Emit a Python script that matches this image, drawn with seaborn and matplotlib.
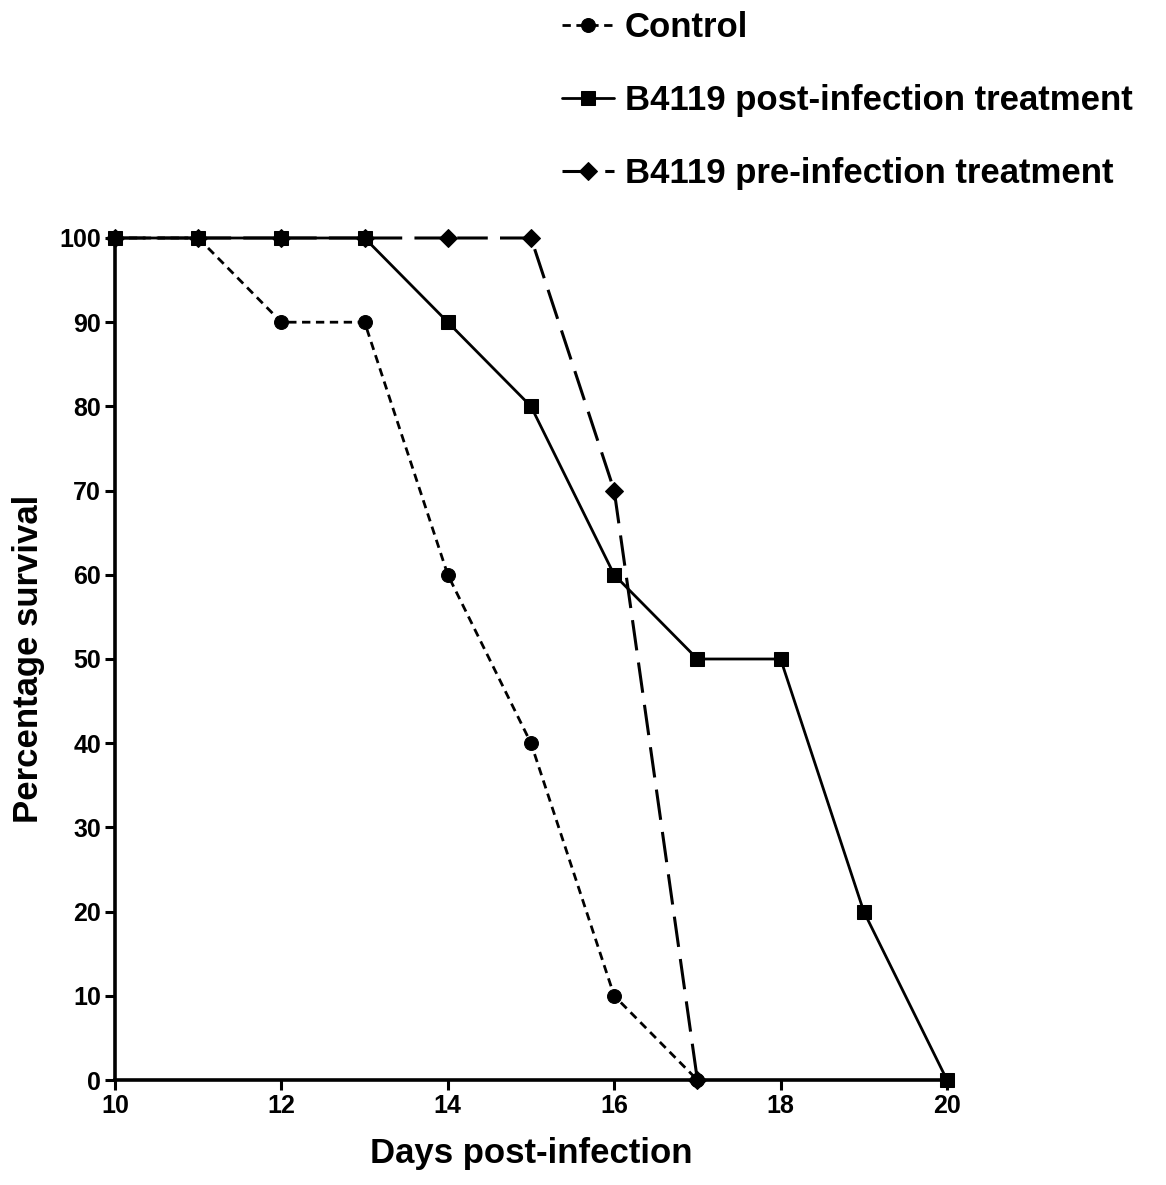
import matplotlib
matplotlib.use("Agg")
import matplotlib.pyplot as plt
import pandas as pd
import seaborn as sns

# Survival data
DAYS_CONTROL = [10, 11, 12, 13, 14, 15, 16, 17]
SURV_CONTROL = [100, 100, 90, 90, 60, 40, 10, 0]

DAYS_POST = [10, 11, 12, 13, 14, 15, 16, 17, 18, 19, 20]
SURV_POST = [100, 100, 100, 100, 90, 80, 60, 50, 50, 20, 0]

DAYS_PRE = [10, 11, 12, 13, 14, 15, 16, 17]
SURV_PRE = [100, 100, 100, 100, 100, 100, 70, 0]

X_TICKS = [10, 12, 14, 16, 18, 20]
Y_TICKS = [0, 10, 20, 30, 40, 50, 60, 70, 80, 90, 100]

sns.set_style("ticks")
plt.rcParams["font.family"] = ["Liberation Sans", "DejaVu Sans"]
plt.rcParams["font.weight"] = "bold"
plt.rcParams["text.color"] = "black"
plt.rcParams["axes.labelcolor"] = "black"
plt.rcParams["axes.edgecolor"] = "black"
plt.rcParams["xtick.color"] = "black"
plt.rcParams["ytick.color"] = "black"

fig = plt.figure(figsize=(11.66, 11.85), dpi=100)
ax = fig.add_axes([115 / 1166, 105 / 1185, 832 / 1166, 842 / 1185])

series = [
    ("B4119 pre-infection treatment", DAYS_PRE, SURV_PRE,
     dict(marker="D", markersize=9, linewidth=2.2, dashes=(10, 4))),
    ("Control", DAYS_CONTROL, SURV_CONTROL,
     dict(marker="o", markersize=10, linewidth=2.0, dashes=(3, 2))),
    ("B4119 post-infection treatment", DAYS_POST, SURV_POST,
     dict(marker="s", markersize=10.5, linewidth=2.0)),
]

handles = {}
for label, xs, ys, style in series:
    df = pd.DataFrame({"day": xs, "survival": ys})
    sns.lineplot(data=df, x="day", y="survival", ax=ax, color="black",
                 markeredgecolor="black", clip_on=False, label=label, **style)
    handles[label] = ax.get_lines()[-1]

ax.get_legend().remove()

ax.set_xlim(10, 20)
ax.set_ylim(0, 100)
ax.set_xticks(X_TICKS)
ax.set_yticks(Y_TICKS)
ax.tick_params(axis="both", labelsize=18, width=2.2, length=7, direction="out", pad=3)
for lab in ax.get_xticklabels() + ax.get_yticklabels():
    lab.set_fontweight("bold")

for side in ["top", "right"]:
    ax.spines[side].set_visible(False)
for side in ["left", "bottom"]:
    ax.spines[side].set_linewidth(2.6)

ax.set_xlabel("Days post-infection", fontsize=25, fontweight="bold", labelpad=14)
ax.set_ylabel("Percentage survival", fontsize=25, fontweight="bold", labelpad=10)

order = ["Control", "B4119 post-infection treatment", "B4119 pre-infection treatment"]
fig.legend([handles[k] for k in order], order, loc="upper left",
           bbox_to_anchor=(545 / 1166, 1 + 6 / 1185), frameon=False,
           borderpad=0, handlelength=1.5, handletextpad=0.3, labelspacing=1.15,
           prop={"weight": "bold", "size": 25})

fig.savefig("out.png", dpi=100)
